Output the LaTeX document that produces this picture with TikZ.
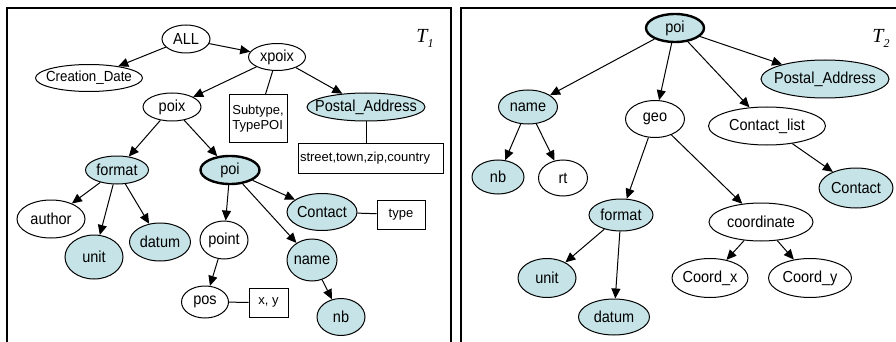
\documentclass[tikz,border=0pt]{standalone}
\usepackage{fontspec}
\usepackage{graphicx}
\setmainfont{Liberation Sans}
\newfontfamily\serifT{Liberation Serif}
\usetikzlibrary{shapes.geometric,arrows.meta}
\definecolor{cyanfill}{RGB}{198,228,231}
\newcommand{\zt}[1]{\makebox[0pt]{\scalebox{1}[1.1]{#1}}}
\begin{document}
\begin{tikzpicture}[x=1pt,y=-1pt,
 en/.style={ellipse,draw,line width=1pt,inner sep=0pt,font=\fontsize{14.5}{16}\selectfont},
 fl/.style={fill=cyanfill},
 thk/.style={line width=2.4pt},
 bx/.style={draw,line width=1pt,inner sep=0pt,font=\fontsize{13}{15}\selectfont},
 arr/.style={line width=1pt,-{Triangle[length=10pt,width=9pt]}},
 ln/.style={line width=1pt},
 frame/.style={line width=1.4pt},
 tlabel/.style={font=\serifT\itshape\fontsize{20}{20}\selectfont,inner sep=0pt}]
\useasboundingbox (0,0) rectangle (896,342);
% frames
\draw[frame] (7,342) -- (7,8) -- (451,8) -- (451,342);
\draw[frame] (461,342) -- (461,8) -- (897,8);
\node[tlabel] (T1) at (425,38) {T\raisebox{-5pt}{\fontsize{12}{12}\selectfont 1}};
\node[tlabel] (T2) at (881,38) {T\raisebox{-5pt}{\fontsize{12}{12}\selectfont 2}};
% ---------- T1 ----------
\node[en,minimum width=48pt,minimum height=28pt] (ALL) at (186,39) {\zt{ALL}};
\node[en,minimum width=57pt,minimum height=27pt] (xpoix) at (277,57) {\zt{xpoix}};
\node[en,minimum width=107pt,minimum height=27pt,font=\fontsize{13.3}{15}\selectfont] (CD) at (89,78) {\zt{Creation\_Date}};
\node[en,minimum width=58pt,minimum height=28pt] (poix) at (172,107) {\zt{poix}};
\node[en,fl,minimum width=118pt,minimum height=28pt] (PA1) at (366,107) {\zt{Postal\_Address}};
\node[bx,minimum width=58pt,minimum height=47pt,align=left] (sub) at (258,118.5) {Subtype,\\TypePOI};
\node[bx,text width=141pt,inner xsep=2pt,minimum height=30pt,align=left] (street) at (370.5,158) {street,town,zip,country};
\node[en,fl,minimum width=63pt,minimum height=28pt] (format1) at (117,170) {\zt{format}};
\node[en,fl,thk,minimum width=59pt,minimum height=28pt] (poi1) at (230,170) {\zt{poi}};
\node[en,minimum width=68pt,minimum height=38pt] (author) at (51,219) {\zt{author}};
\node[en,fl,minimum width=58pt,minimum height=44pt] (unit1) at (94,257) {\zt{unit}};
\node[en,fl,minimum width=61pt,minimum height=38pt] (datum1) at (160,242) {\zt{datum}};
\node[en,minimum width=48pt,minimum height=38pt] (point) at (224,240) {\zt{point}};
\node[en,fl,minimum width=70pt,minimum height=37pt] (Contact1) at (322,212) {\zt{Contact}};
\node[bx,minimum width=48pt,minimum height=29pt] (type) at (401,214.5) {type};
\node[en,fl,minimum width=50pt,minimum height=42pt] (name1) at (312,260) {\zt{name}};
\node[en,minimum width=47pt,minimum height=32pt] (pos) at (205,302) {\zt{pos}};
\node[bx,minimum width=39pt,minimum height=29pt] (xy) at (268.5,302.5) {x, y};
\node[en,fl,minimum width=48pt,minimum height=37pt] (nb1) at (341,317) {\zt{nb}};
\draw[arr] (ALL) -- (CD);
\draw[arr] (ALL) -- (xpoix);
\draw[arr] (xpoix) -- (poix);
\draw[arr] (xpoix) -- (PA1);
\draw[ln] (xpoix) -- (sub);
\draw[ln] (PA1) -- (PA1 |- street.north);
\draw[arr] (poix) -- (format1);
\draw[arr] (poix) -- (poi1);
\draw[arr] (format1) -- (author);
\draw[arr] (format1) -- (unit1);
\draw[arr] (format1) -- (datum1);
\draw[arr] (poi1) -- (point);
\draw[arr] (poi1) -- (Contact1);
\draw[arr] (poi1) -- (name1);
\draw[ln] (Contact1) -- (type);
\draw[arr] (point) -- (pos);
\draw[ln] (pos) -- (xy);
\draw[arr] (name1) -- (nb1);
% ---------- T2 ----------
\node[en,fl,thk,minimum width=58pt,minimum height=28pt] (poi2) at (675,28) {\zt{poi}};
\node[en,fl,minimum width=128pt,minimum height=38pt] (PA2) at (825,79) {\zt{Postal\_Address}};
\node[en,fl,minimum width=59pt,minimum height=34pt] (name2) at (528,107) {\zt{name}};
\node[en,minimum width=59pt,minimum height=37pt] (geo) at (655,119) {\zt{geo}};
\node[en,minimum width=117pt,minimum height=38pt] (CL) at (767,126) {\zt{Contact\_list}};
\node[en,fl,minimum width=52pt,minimum height=34pt] (nb2) at (498,177) {\zt{nb}};
\node[en,minimum width=49pt,minimum height=36pt] (rt) at (563,178) {\zt{rt}};
\node[en,fl,minimum width=74pt,minimum height=40pt] (Contact2) at (856,188) {\zt{Contact}};
\node[en,fl,minimum width=64pt,minimum height=32pt] (format2) at (621,215) {\zt{format}};
\node[en,minimum width=104pt,minimum height=38pt] (coordinate) at (761,222) {\zt{coordinate}};
\node[en,fl,minimum width=58pt,minimum height=39pt] (unit2) at (547,278) {\zt{unit}};
\node[en,fl,minimum width=71pt,minimum height=36pt] (datum2) at (614,317) {\zt{datum}};
\node[en,minimum width=76pt,minimum height=39pt] (Coordx) at (710,278) {\zt{Coord\_x}};
\node[en,minimum width=83pt,minimum height=39pt] (Coordy) at (810,278) {\zt{Coord\_y}};
\draw[arr] (poi2) -- (name2);
\draw[arr] (poi2) -- (geo);
\draw[arr] (poi2) -- (CL);
\draw[arr] (poi2) -- (PA2);
\draw[arr] (name2) -- (nb2);
\draw[arr] (name2) -- (rt);
\draw[arr] (geo) -- (format2);
\draw[arr] (geo) -- (coordinate);
\draw[arr] (CL) -- (Contact2);
\draw[arr] (format2) -- (unit2);
\draw[arr] (format2) -- (datum2);
\draw[arr] (coordinate) -- (Coordx);
\draw[arr] (coordinate) -- (Coordy);
\end{tikzpicture}
\end{document}
